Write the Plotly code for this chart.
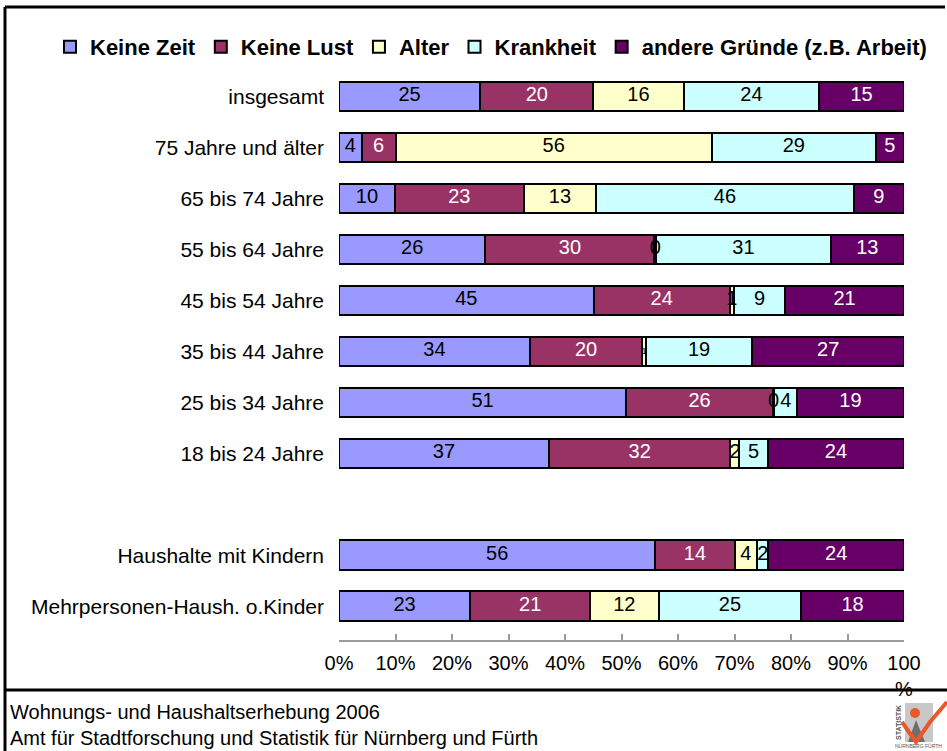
import plotly.graph_objects as go

# ---------------- data ----------------
categories = [
    "insgesamt",
    "75 Jahre und älter",
    "65 bis 74 Jahre",
    "55 bis 64 Jahre",
    "45 bis 54 Jahre",
    "35 bis 44 Jahre",
    "25 bis 34 Jahre",
    "18 bis 24 Jahre",
    "Haushalte mit Kindern",
    "Mehrpersonen-Haush. o.Kinder",
]
axis_categories = categories[:8] + [" "] + categories[8:]

series_names = ["Keine Zeit", "Keine Lust", "Alter", "Krankheit", "andere Gründe (z.B. Arbeit)"]
keine_zeit = [25, 4, 10, 26, 45, 34, 51, 37, 56, 23]
keine_lust = [20, 6, 23, 30, 24, 20, 26, 32, 14, 21]
alter = [16, 56, 13, 0.3, 0.8, 0.6, 0.3, 1.6, 4, 12]
krankheit = [24, 29, 46, 31, 9, 19, 4, 5, 2, 25]
andere = [15, 5, 9, 13, 21, 27, 19, 24, 24, 18]
alter_labels = ["16", "56", "13", "0", "1", "1", "0", "2", "4", "12"]

x_tickvals = [0, 10, 20, 30, 40, 50, 60, 70, 80, 90, 100]
x_ticktext = ["0%", "10%", "20%", "30%", "40%", "50%", "60%", "70%", "80%", "90%", "100<br>%"]

footer_lines = ["Wohnungs- und Haushaltserhebung 2006",
                "Amt für Stadtforschung und Statistik für Nürnberg und Fürth"]

# ---------------- styling ----------------
colors = ["#9999FF", "#993366", "#FFFFCC", "#CCFFFF", "#660066"]
text_colors = ["black", "white", "black", "black", "white"]
FONT = "Liberation Sans, Arial, sans-serif"

W, H = 947, 751
ML, MR, MT, MB = 339, 43, 68, 110
PW, PH = W - ML - MR, H - MT - MB


def px(x):
    return (x - ML) / PW


def py(y):
    return (H - MB - y) / PH


all_series = [keine_zeit, keine_lust, alter, krankheit, andere]

fig = go.Figure()
for name, vals, col in zip(series_names, all_series, colors):
    fig.add_trace(go.Bar(
        name=name,
        y=categories,
        x=vals,
        orientation="h",
        marker=dict(color=col, line=dict(color="black", width=2)),
        hoverinfo="name+x",
    ))

# value labels drawn above all bars (like the original chart), at segment centres
n = len(categories)
totals = [sum(s[k] for s in all_series) for k in range(n)]
lab_x, lab_y, lab_t, lab_c, lab_s = [], [], [], [], []
for si, (vals, tcol) in enumerate(zip(all_series, text_colors)):
    for k in range(n):
        left = sum(all_series[j][k] for j in range(si))
        lab_x.append(100 * (left + vals[k] / 2) / totals[k])
        lab_y.append(categories[k])
        if si == 2:
            txt = alter_labels[k]
        else:
            txt = f"{vals[k]:.0f}"
        lab_t.append(txt)
        lab_c.append(tcol)
        lab_s.append(9 if (si == 2 and vals[k] < 0.7 and txt == "1") else 20)

fig.add_trace(go.Scatter(
    x=lab_x, y=lab_y, mode="text", text=lab_t,
    textposition="middle center",
    textfont=dict(family=FONT, size=lab_s, color=lab_c),
    showlegend=False, hoverinfo="skip",
))

shapes = [
    dict(type="line", xref="paper", yref="paper", x0=px(5), x1=px(945), y0=py(7), y1=py(7),
         line=dict(color="black", width=3)),
    dict(type="line", xref="paper", yref="paper", x0=px(5), x1=px(5), y0=py(7), y1=py(751),
         line=dict(color="black", width=3)),
    dict(type="line", xref="paper", yref="paper", x0=px(5), x1=px(947), y0=py(690), y1=py(690),
         line=dict(color="black", width=3)),
    # logo (approximation)
    dict(type="rect", xref="paper", yref="paper", x0=px(905), x1=px(933), y0=py(742), y1=py(703),
         fillcolor="#C8C8C8", line=dict(width=0)),
    dict(type="path", xref="paper", yref="paper",
         path=f"M {px(908)},{py(742)} L {px(916)},{py(720)} L {px(925)},{py(742)} Z",
         fillcolor="#6E6E6E", line=dict(width=0)),
    dict(type="path", xref="paper", yref="paper",
         path=f"M {px(902)},{py(722)} L {px(916)},{py(742)} L {px(930)},{py(722)} L {px(947)},{py(702)}",
         line=dict(color="#E8582A", width=4)),
    dict(type="circle", xref="paper", yref="paper", x0=px(910), x1=px(920), y0=py(718), y1=py(708),
         fillcolor="#E8582A", line=dict(width=0)),
]

annotations = [
    dict(text=footer_lines[0], xref="paper", yref="paper", x=px(8), y=py(712),
         xanchor="left", yanchor="middle", showarrow=False,
         font=dict(family=FONT, size=20, color="black")),
    dict(text=footer_lines[1], xref="paper", yref="paper", x=px(8), y=py(738),
         xanchor="left", yanchor="middle", showarrow=False,
         font=dict(family=FONT, size=20, color="black")),
    dict(text="STATISTIK", xref="paper", yref="paper", x=px(898), y=py(723),
         xanchor="center", yanchor="middle", showarrow=False, textangle=-90,
         font=dict(family=FONT, size=7, color="#555555", weight="bold")),
    dict(text="NÜRNBERG FÜRTH", xref="paper", yref="paper", x=px(918), y=py(746),
         xanchor="center", yanchor="middle", showarrow=False,
         font=dict(family=FONT, size=5, color="#555555")),
]

fig.update_layout(
    width=W, height=H,
    margin=dict(l=ML, r=MR, t=MT, b=MB, pad=0),
    barmode="stack",
    barnorm="percent",
    bargap=0.42,
    paper_bgcolor="white",
    plot_bgcolor="white",
    font=dict(family=FONT, size=20, color="black"),
    showlegend=True,
    legend=dict(
        orientation="h",
        x=px(50), xanchor="left",
        y=py(47), yanchor="middle",
        font=dict(family=FONT, size=22, color="black", weight="bold"),
        traceorder="normal",
        itemwidth=30,
        bgcolor="rgba(0,0,0,0)",
    ),
    xaxis=dict(
        range=[0, 100],
        tickvals=x_tickvals,
        ticktext=x_ticktext,
        showgrid=False,
        zeroline=False,
        showline=True,
        linecolor="#9A9A9A",
        linewidth=2,
        ticks="inside",
        ticklen=6,
        tickwidth=2,
        tickcolor="#9A9A9A",
        tickfont=dict(family=FONT, size=20, color="black"),
        ticklabelstandoff=4,
        anchor="free",
        position=0,
        fixedrange=True,
    ),
    yaxis=dict(
        type="category",
        categoryorder="array",
        categoryarray=axis_categories,
        autorange="reversed",
        domain=[6.4 / PH, 1],
        showgrid=False,
        zeroline=False,
        showline=False,
        ticks="",
        tickfont=dict(family=FONT, size=21, color="black"),
        ticklabelstandoff=14,
        fixedrange=True,
    ),
    shapes=shapes,
    annotations=annotations,
)

fig.write_html("out.html", config={"displayModeBar": False},
               post_script="document.body.style.margin='0';")
